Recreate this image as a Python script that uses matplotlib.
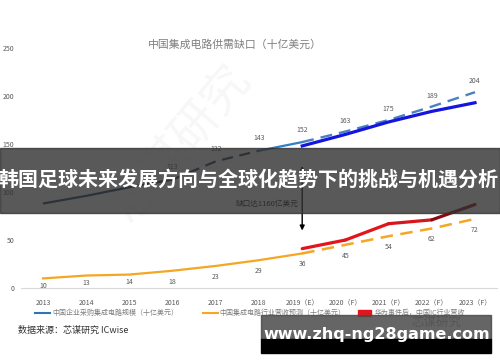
import matplotlib.pyplot as plt
from matplotlib.patches import Rectangle
from matplotlib.collections import LineCollection
import numpy as np

plt.rcParams['font.family'] = ['Noto Sans CJK SC', 'DejaVu Sans']

# --- 数据 ---
years = ['2013', '2014', '2015', '2016', '2017', '2018',
         '2019（E）', '2020（F）', '2021（F）', '2022（F）', '2023（F）']
# 中国企业采购集成电路规模（历史）
buy_hist = [88, 96, 105, 113, 132, 143, 152]
buy_hist_labels = ['', '', '', '113', '132', '143', '152']
# 采购规模预测（虚线）
buy_fcst = [152, 163, 175, 189, 204]
# 采购规模（蓝色实线）
buy_solid = [148, 160, 173, 184, 193]
# 中国集成电路行业营收
rev = [10, 13, 14, 18, 23, 29, 36, 45, 54, 62, 72]
# 华为事件后营收
rev_huawei = [41, 50, 67, 71, 87]

x = np.arange(len(years))
xf = x[6:]

fig = plt.figure(figsize=(5, 3.62), dpi=100)
ax = fig.add_axes([0.0428, 0.2044, 0.9504, 0.7425])
ax.set_xlim(-0.5, 10.5)
ax.set_ylim(0, 280)

navy = '#1d3c5a'

# 蓝色历史线
ax.plot(x[:4], buy_hist[:4], color=navy, lw=1.6, solid_capstyle='butt')
ax.plot(x[3:6], buy_hist[3:6], color=navy, lw=1.6, ls=(0, (5, 3)))
ax.plot(x[5:7], buy_hist[5:7], color='#2f7fc1', lw=1.6)
# 预测
ax.plot(xf, buy_fcst, color='#4a80c0', lw=1.7, ls=(0, (5, 3)))
ax.plot(xf, buy_solid, color='#1515e0', lw=2.3)

# 营收
ax.plot(x[:7], rev[:7], color='#f5a623', lw=1.6)
ax.plot(x[6:], rev[6:], color='#f5a623', lw=1.8, ls=(0, (5, 3)))

# 华为事件后（红色渐变）
pts = np.column_stack([xf, rev_huawei]).reshape(-1, 1, 2)
segs = np.concatenate([pts[:-1], pts[1:]], axis=1)
lc = LineCollection(segs, colors=['#e3141c', '#e3141c', '#d8141c', '#8a0a14'],
                    linewidths=2.3, capstyle='round')
ax.add_collection(lc)

# 数据标签
for i, lab in enumerate(buy_hist_labels):
    if lab:
        ax.annotate(lab, (x[i], buy_hist[i]), xytext=(0, 6), textcoords='offset points',
                    ha='center', va='bottom', fontsize=5, color='#595959')
for i in range(1, len(buy_fcst)):
    ax.annotate(str(buy_fcst[i]), (xf[i], buy_fcst[i]), xytext=(0, 5), textcoords='offset points',
                ha='center', va='bottom', fontsize=5, color='#595959')
for i, v in enumerate(rev):
    off = -2.5 if i < 3 else -5
    ax.annotate(str(v), (x[i], v), xytext=(0, off), textcoords='offset points',
                ha='center', va='top', fontsize=5, color='#595959')

# 缺口箭头
ax.annotate('', xy=(6, 130), xytext=(6, 57),
            arrowprops=dict(arrowstyle='<|-|>', color='black', lw=1, mutation_scale=7))
ax.text(5.92, 88, '缺口达1160亿美元', ha='right', va='center', fontsize=5.5, color='#1a1a1a')

# 水印
ax.text(3.2, 150, '芯谋研究', rotation=50, fontsize=34, color='#f7f7f7', ha='center', va='center', zorder=0)

# 坐标轴
ax.set_xticks(x)
ax.set_xticklabels(years, fontsize=5, color='#595959')
ax.set_yticks([0, 50, 100, 150, 200, 250])
ax.set_yticklabels(['0', '50', '100', '150', '200', '250'], fontsize=5, color='#595959')
ax.tick_params(axis='x', length=0, pad=8)
ax.tick_params(axis='y', length=0, pad=5)
for s in ['top', 'right', 'left']:
    ax.spines[s].set_visible(False)
ax.spines['bottom'].set_color('#d9d9d9')
ax.spines['bottom'].set_linewidth(0.8)

fig.text(0.47, 0.876, '中国集成电路供需缺口（十亿美元）', ha='center', va='center',
         fontsize=7.8, color='#7f7f7f')

# 图例
ly = 1 - 313 / 362
fig.lines.append(plt.Line2D([35 / 500, 50 / 500], [ly, ly], color='#2e75b6', lw=1.5, transform=fig.transFigure))
fig.text(52 / 500, ly, '中国企业采购集成电路规模（十亿美元）', fontsize=5, color='#7f7f7f', va='center')
fig.lines.append(plt.Line2D([203 / 500, 218 / 500], [ly, ly], color='#f5a623', lw=1.5, transform=fig.transFigure))
fig.text(219 / 500, ly, '中国集成电路行业营收预测（十亿美元）', fontsize=5, color='#7f7f7f', va='center')
fig.patches.append(Rectangle((358 / 500, ly - 3 / 362), 13 / 500, 6 / 362, color='#e3141c', transform=fig.transFigure))
fig.text(375 / 500, ly, '华为事件后，中国IC行业营收', fontsize=5, color='#7f7f7f', va='center')
fig.text(412 / 500, 1 - 322 / 362, '芯谋研究', fontsize=9, color='#9a9a9a', va='center')

fig.text(18 / 500, 1 - 330 / 362, '数据来源：芯谋研究 ICwise', fontsize=6.5, color='#333333', va='center')

# 标题横幅
fig.patches.append(Rectangle((0, 1 - 213 / 362), 1, 65 / 362, color='#303030', alpha=0.8,
                             transform=fig.transFigure, zorder=5))
fig.text(0.497, 1 - 180 / 362, '韩国足球未来发展方向与全球化趋势下的挑战与机遇分析', ha='center', va='center',
         fontsize=14.4, color='white', fontweight='bold', zorder=6)

# 网址横幅
fig.patches.append(Rectangle((261 / 500, 1 - 339 / 362), 230 / 500, 24 / 362, color='#4a4a4a', alpha=0.85,
                             transform=fig.transFigure, zorder=5))
fig.patches.append(Rectangle((261 / 500, 1 - 353 / 362), 230 / 500, 14 / 362, color='black',
                             transform=fig.transFigure, zorder=5))
fig.text(377 / 500, 1 - 334 / 362, 'www.zhq-ng28game.com', ha='center', va='center',
         fontsize=11.5, color='white', fontweight='bold', family='DejaVu Sans', zorder=6)

fig.savefig('out.png', dpi=100)
